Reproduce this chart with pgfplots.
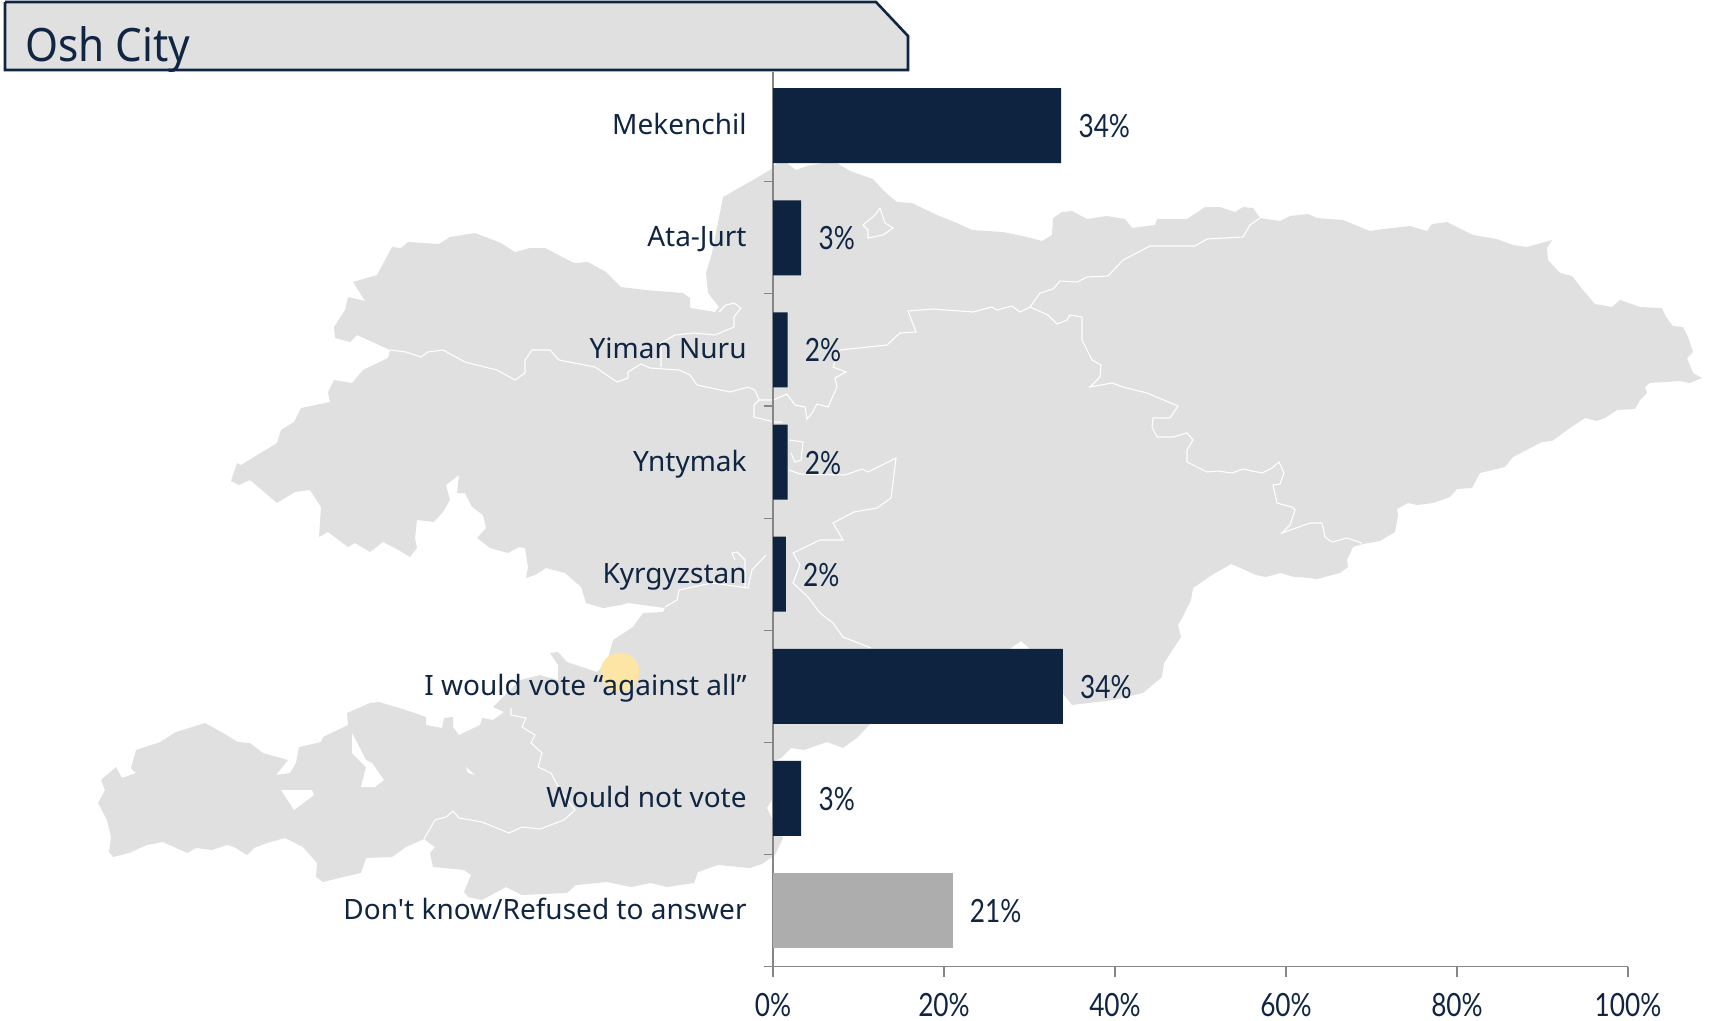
\documentclass[border=0pt]{standalone}
\usepackage{fontspec}
\usepackage{pgfplots}
\pgfplotsset{compat=1.18}
\setmainfont{Noto Sans}
\newfontfamily\catfont{Noto Sans}
\newfontfamily\titlefont[FakeStretch=0.92]{Noto Sans}
\newfontfamily\numfont[FakeStretch=0.82]{Lato}
\definecolor{navy}{HTML}{0E2340}
\definecolor{txt}{HTML}{0F2542}
\definecolor{mapc}{HTML}{E0E0E0}
\definecolor{dk}{HTML}{ADADAE}
\definecolor{axc}{HTML}{868686}
\definecolor{dotc}{HTML}{FCE5A5}
\begin{document}
\begin{tikzpicture}
\useasboundingbox (0,0) rectangle (855pt,-510.5pt);
\begin{axis}[at={(0pt,0pt)},anchor=north west,scale only axis,width=855pt,height=510.5pt,
  xmin=0,xmax=1710,ymin=0,ymax=1021,y dir=reverse,hide axis,clip=false]
% map outline
\addplot[fill=mapc,draw=none] coordinates {
(777,163)(787,163)(796,170)(807,166)(823,163)(837,163)(850,171)(873,179)(885,192)(897,202)(912,203)(937,215)(957,223)(972,230)(1003,232)(1027,237)(1042,241)(1052,235)(1053,218)(1062,212)(1072,211)(1087,219)(1107,216)(1125,219)(1132,228)(1155,225)(1157,219)(1187,219)(1205,207)(1220,207)(1235,212)(1243,207)(1253,208)(1260,218)
(1280,221)(1290,216)(1308,214)(1317,218)(1343,220)(1370,231)(1383,229)(1410,226)(1427,231)(1432,224)(1447,222)(1473,235)(1497,239)(1513,245)(1527,247)(1552,240)(1547,248)(1548,260)(1560,273)(1572,276)(1583,290)(1595,304)(1612,307)(1620,300)(1640,307)(1662,308)(1666,317)(1673,326)(1683,327)(1688,337)(1693,352)(1687,358)(1693,373)(1702,378)(1690,383)(1680,381)(1650,383)(1645,387)(1647,393)(1640,400)(1635,409)(1617,410)(1605,418)(1597,421)(1585,418)(1570,428)(1552,441)(1542,442)(1513,457)(1505,467)(1480,473)(1472,488)(1457,489)(1450,497)(1433,503)(1417,505)(1408,503)(1397,509)(1398,515)(1395,532)(1380,541)(1363,544)(1353,547)(1347,560)(1348,567)(1340,573)
(1317,579)(1300,577)(1294,577)(1281,573)(1266,577)(1256,575)(1245,570)(1231,564)(1212,575)(1193,588)(1191,600)(1181,620)(1178,625)(1181,637)(1164,663)(1162,677)(1143,693)(1114,700)(1072,705)(1060,690)(1029,648)(1021,641)(1011,648)(950,690)(870,724)(858,737)(843,748)(827,742)(804,750)(791,748)(781,758)(774,761)(780,780)(775,795)(767,808)(775,825)(783,838)(775,855)(762,864)
(750,868)(718,865)(698,872)(694,883)(667,887)(651,883)(631,887)(607,882)(576,885)(567,893)(522,895)(506,887)(482,900)(468,897)(464,892)(471,875)(464,870)(433,867)(430,853)(435,847)(424,839)(406,847)(392,857)(366,858)(361,873)(343,877)(323,882)(316,877)(317,863)(303,847)(285,838)(267,843)(254,848)(247,855)(234,847)(227,845)(212,850)(196,848)(187,853)(163,842)(147,845)(129,853)(113,857)(109,852)(111,837)(107,820)(98,803)(105,790)(101,780)(116,767)(122,778)(136,773)(131,768)(136,750)(160,742)(176,732)(205,723)(223,733)(238,742)(250,743)(263,753)(288,760)(276,775)(290,773)(296,763)(299,747)(321,742)(323,737)(348,725)(347,713)(370,703)(379,702)(406,710)(426,717)(426,725)(442,728)(444,718)(453,717)(453,727)(459,735)(480,725)(482,718)(493,720)(504,712)(493,707)(520,680)(540,675)(558,680)(558,665)(550,653)(558,652)(567,662)(597,672)(607,662)(613,640)(633,627)(643,613)(663,612)(665,608)
(628,603)(621,605)(603,608)(586,603)(581,587)(565,573)(546,568)(535,575)(526,578)(528,567)(525,548)(519,547)(508,553)(490,548)(477,538)(486,528)(483,515)(472,507)(465,493)(457,493)(459,475)(446,485)(450,500)(443,512)(434,522)(417,520)(415,538)(417,548)(410,557)(395,548)(383,542)(370,552)(355,543)(348,547)(328,532)(319,537)(321,507)(310,490)(295,492)(277,503)(250,480)(239,485)(231,481)(237,463)(241,465)(277,443)(281,430)(294,422)(301,408)(330,402)(328,392)(334,380)(352,383)(363,370)(388,358)(390,350)(357,335)(350,342)(335,338)(334,327)(345,310)(348,297)(365,301)(353,282)(377,275)(392,247)(401,248)(408,242)(439,244)(450,237)(475,233)(501,243)(515,252)(530,248)(545,248)(574,263)(588,262)(606,272)(621,287)(646,290)(683,293)(690,298)(690,308)(715,312)(719,307)(708,293)(706,273)(712,253)(723,197)(753,180)(770,170)
};
% lakes
\addplot[fill=white,draw=none] coordinates {(352,733)(366,760)(372,763)(384,780)(375,787)(361,787)(366,767)(352,753)};
\addplot[fill=white,draw=none] coordinates {(281,790)(312,790)(314,795)(294,810)};
\addplot[fill=white,draw=none] coordinates {(466,767)(475,775)(468,773)};
% internal borders
\addplot[white,line width=0.55pt] coordinates {(390,350)(406,352)(421,357)(428,352)(443,350)(465,362)(497,370)(515,380)(525,373)(525,360)(532,350)(550,350)(559,360)(595,367)(617,382)(628,378)(628,372)(641,364)(650,368)(679,370)(690,375)(697,385)(730,392)(748,387)(755,390)(759,400)(773,400)(787,394)(795,405)(805,407)(807,419)(812,413)(817,404)(828,407)(837,387)(835,378)(846,372)(833,367)(840,350)(887,345)(900,333)(916,332)(908,311)(933,309)(973,312)(992,307)(997,310)(1012,306)(1020,312)(1030,307)(1040,293)(1053,289)(1060,281)(1077,282)(1087,277)(1108,276)(1123,260)(1150,246)(1195,246)(1207,239)(1243,237)(1250,225)(1260,218)};
\addplot[white,line width=0.55pt] coordinates {(1030,307)(1048,315)(1057,324)(1067,320)(1070,315)(1082,317)(1082,340)(1092,360)(1101,365)(1100,377)(1090,387)(1112,383)(1123,387)(1147,393)(1178,406)(1170,418)(1153,418)(1152,427)(1157,437)(1173,437)(1187,433)(1193,440)(1187,450)(1187,462)(1207,472)(1218,471)(1232,473)(1243,469)(1262,473)(1272,468)(1279,462)(1284,473)(1280,484)(1273,485)(1277,503)(1292,507)(1295,510)(1290,525)(1282,533)(1310,523)(1322,523)(1325,537)(1332,542)(1347,538)(1362,543)};
\addplot[white,line width=0.55pt] coordinates {(789,470)(800,474)(845,475)(862,469)(868,472)(896,458)(891,498)(877,508)(854,512)(833,523)(843,540)(820,540)(793,553)(800,565)(793,583)(808,597)(820,613)(833,623)(843,637)(871,648)};
\addplot[white,line width=0.55pt] coordinates {(789,440)(803,442)(801,460)(795,462)(791,453)};
\addplot[white,line width=0.55pt] coordinates {(880,208)(885,223)(893,228)(883,235)(868,238)(868,230)(863,225)(875,215)(880,208)};
\addplot[white,line width=0.55pt] coordinates {(661,367)(661,343)(675,335)(694,333)(715,335)(734,327)(734,317)(741,308)(734,303)(726,305)(719,312)};
\addplot[white,line width=0.55pt] coordinates {(759,400)(754,405)(754,417)(774,422)(782,422)};
\addplot[white,line width=0.55pt] coordinates {(766,555)(752,570)(748,588)(712,583)(679,590)(677,600)(665,607)};
\addplot[white,line width=0.55pt] coordinates {(745,588)(745,560)(737,552)(732,553)(735,560)};
\addplot[white,line width=0.55pt] coordinates {(511,708)(511,715)(526,718)(522,727)(535,735)(531,743)(542,753)(538,767)(551,773)(560,790)(575,810)(564,820)(540,829)(522,827)(509,833)(482,822)(459,818)(453,811)(446,817)(435,820)(424,839)};
% marker
\addplot[only marks,mark=*,mark size=9.5pt,color=dotc] coordinates {(620,672)};
% title tab
\addplot[fill=mapc,draw=txt,line width=1.3pt,line join=miter] coordinates {(5,2)(876,2)(908,36)(908,70)(5,70)(5,2)};
\node[anchor=base west,inner sep=0pt,text=txt,font=\titlefont\fontsize{23}{23}\selectfont] at (axis cs:25,61) {Osh City};
\end{axis}
\begin{axis}[at={(386.5pt,-483.3pt)},anchor=south west,scale only axis,width=427.5pt,height=447.2pt,
  xmin=0,xmax=100,ymin=-0.5,ymax=7.477,
  axis x line*=bottom,axis y line*=left,axis line style={-,draw=axc,line width=0.8pt},
  xbar,bar shift=0pt,bar width=37.5pt,
  xtick={0,20,40,60,80,100},xticklabels={0\%,20\%,40\%,60\%,80\%,100\%},
  ytick={0,1,2,3,4,5,6,7},
  yticklabels={Don't know/Refused to answer,Would not vote,I would vote “against all”,Kyrgyzstan,Yntymak,Yiman Nuru,Ata-Jurt,Mekenchil},
  minor ytick={-0.5,0.5,1.5,2.5,3.5,4.5,5.5,6.5},
  major tick length=5pt,minor tick length=4.5pt,tick align=outside,
  major x tick style={draw=axc,line width=0.6pt},
  major y tick style={draw=none},
  minor y tick style={draw=axc,line width=0.6pt},
  xticklabel style={font=\numfont\fontsize{16}{16}\selectfont,text=txt,yshift=-5pt},
  yticklabel style={font=\catfont\fontsize{14}{14}\selectfont,text=txt,inner sep=0pt,xshift=-8pt,text height=11pt,text depth=2pt},
  point meta=explicit symbolic,
  nodes near coords,
  every node near coord/.append style={font=\numfont\fontsize{16}{16}\selectfont,text=txt,anchor=west,inner sep=0pt,xshift=8.5pt,text height=14pt,text depth=2pt},
  clip=false]
\addplot[fill=navy,draw=none] coordinates {(33.7,7)[34\%] (3.3,6)[3\%] (1.7,5)[2\%] (1.7,4)[2\%] (1.5,3)[2\%] (33.9,2)[34\%] (3.3,1)[3\%]};
\addplot[fill=dk,draw=none] coordinates {(21.0,0)[21\%]};
\end{axis}
\end{tikzpicture}
\end{document}
